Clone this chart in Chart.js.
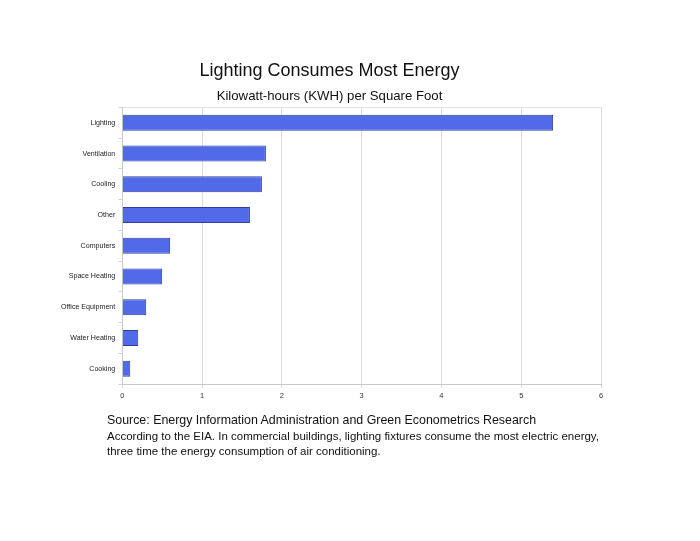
<!DOCTYPE html>
<html>
<head>
<meta charset="utf-8">
<script src="https://cdn.jsdelivr.net/npm/chart.js@4/dist/chart.umd.min.js"></script>
<style>
  html, body { margin: 0; padding: 0; background: #fff; }
  #wrap { position: relative; width: 700px; height: 541px; }
  #note { position: absolute; left: 107px; top: 411px; font-family: "Liberation Sans", Arial, sans-serif; color: #111; }
  #note .l1 { font-size: 12.4px; line-height: 18px; }
  #note .l2 { font-size: 11.5px; line-height: 14.5px; }
</style>
</head>
<body>
<div id="wrap">
  <canvas id="c" width="700" height="541"></canvas>
  <div id="note">
    <div class="l1">Source: Energy Information Administration and Green Econometrics Research</div>
    <div class="l2">According to the EIA. In commercial buildings, lighting fixtures consume the most electric energy,</div>
    <div class="l2">three time the energy consumption of air conditioning.</div>
  </div>
</div>
<script>
const categories = ["Lighting", "Ventilation", "Cooling", "Other", "Computers", "Space Heating", "Office Equipment", "Water Heating", "Cooking"];
const kwhPerSqFt = [5.4, 1.8, 1.75, 1.6, 0.6, 0.5, 0.3, 0.2, 0.1];
const xTicks = [0, 1, 2, 3, 4, 5, 6];
const titleText = "Lighting Consumes Most Energy";
const subtitleText = "Kilowatt-hours (KWH) per Square Foot";

const FONT = "'Liberation Sans', Arial, sans-serif";
new Chart(document.getElementById('c'), {
  type: 'bar',
  data: {
    labels: categories,
    datasets: [{
      data: kwhPerSqFt,
      backgroundColor: 'rgb(80,106,232)',
      borderColor: 'rgb(48,62,160)',
      borderWidth: 1,
      categoryPercentage: 1,
      barPercentage: 0.52
    }]
  },
  options: {
    indexAxis: 'y',
    responsive: false,
    animation: false,
    layout: { padding: { left: 58, right: 99, top: 60, bottom: 138 } },
    plugins: {
      legend: { display: false },
      tooltip: { enabled: false },
      title: {
        display: true, text: titleText, color: '#111',
        font: { family: FONT, size: 18, weight: 'normal' },
        padding: { top: 0, bottom: 7 }
      },
      subtitle: {
        display: true, text: subtitleText, color: '#111',
        font: { family: FONT, size: 13.2, weight: 'normal' },
        padding: { top: 0, bottom: 3 }
      }
    },
    scales: {
      x: {
        type: 'linear', min: 0, max: 6,
        afterBuildTicks: s => { s.ticks = xTicks.map(v => ({ value: v })); },
        grid: { color: '#dcdcdc', tickLength: 4, lineWidth: 1 },
        border: { color: '#c8c8c8' },
        ticks: { font: { family: FONT, size: 7.5 }, color: '#333', padding: 3 }
      },
      x2: {
        type: 'linear', position: 'top', min: 0, max: 6,
        grid: { display: false, drawTicks: false },
        border: { display: true, color: '#e2e2e2' },
        ticks: { display: false, padding: 0 }
      },
      y: {
        grid: { drawOnChartArea: false, color: '#d4d4d4', tickLength: 4, offset: true },
        border: { color: '#c8c8c8' },
        ticks: { font: { family: FONT, size: 7.1 }, color: '#222', padding: 3 }
      }
    }
  }
});
</script>
</body>
</html>
